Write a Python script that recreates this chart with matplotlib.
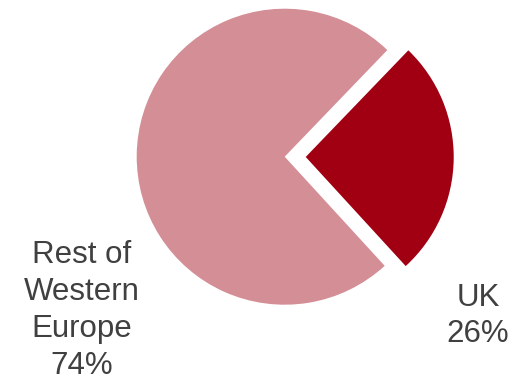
import matplotlib
matplotlib.use("Agg")
import matplotlib.pyplot as plt

labels = ["UK", "Rest of\nWestern\nEurope"]
shares = [26, 74]
colors = ["#A00012", "#D48E96"]

fig = plt.figure(figsize=(5.25, 3.8), dpi=100)
ax = fig.add_axes([0, 0, 1, 1])

# axes units = pixels, pie centre at (0, 0)
cx, cy, r = 284.7, 156.7, 148
ax.pie(shares, colors=colors, explode=[0.142 * r, 0], startangle=-47.5,
       counterclock=True, radius=r, center=(0, 0), frame=True,
       wedgeprops=dict(linewidth=0))
ax.set_xlim(-cx, 525 - cx)
ax.set_ylim(-(380 - cy), cy)
ax.set_aspect("equal")
ax.axis("off")

label_pos = [(478, 316), (82, 310.5)]
for lab, val, (px, py) in zip(labels, shares, label_pos):
    ax.text(px - cx, cy - py, f"{lab}\n{val}%", ha="center", va="center",
            fontsize=22.5, family="Liberation Sans", color="#404040",
            linespacing=1.3)

fig.savefig("out.png", dpi=100)
